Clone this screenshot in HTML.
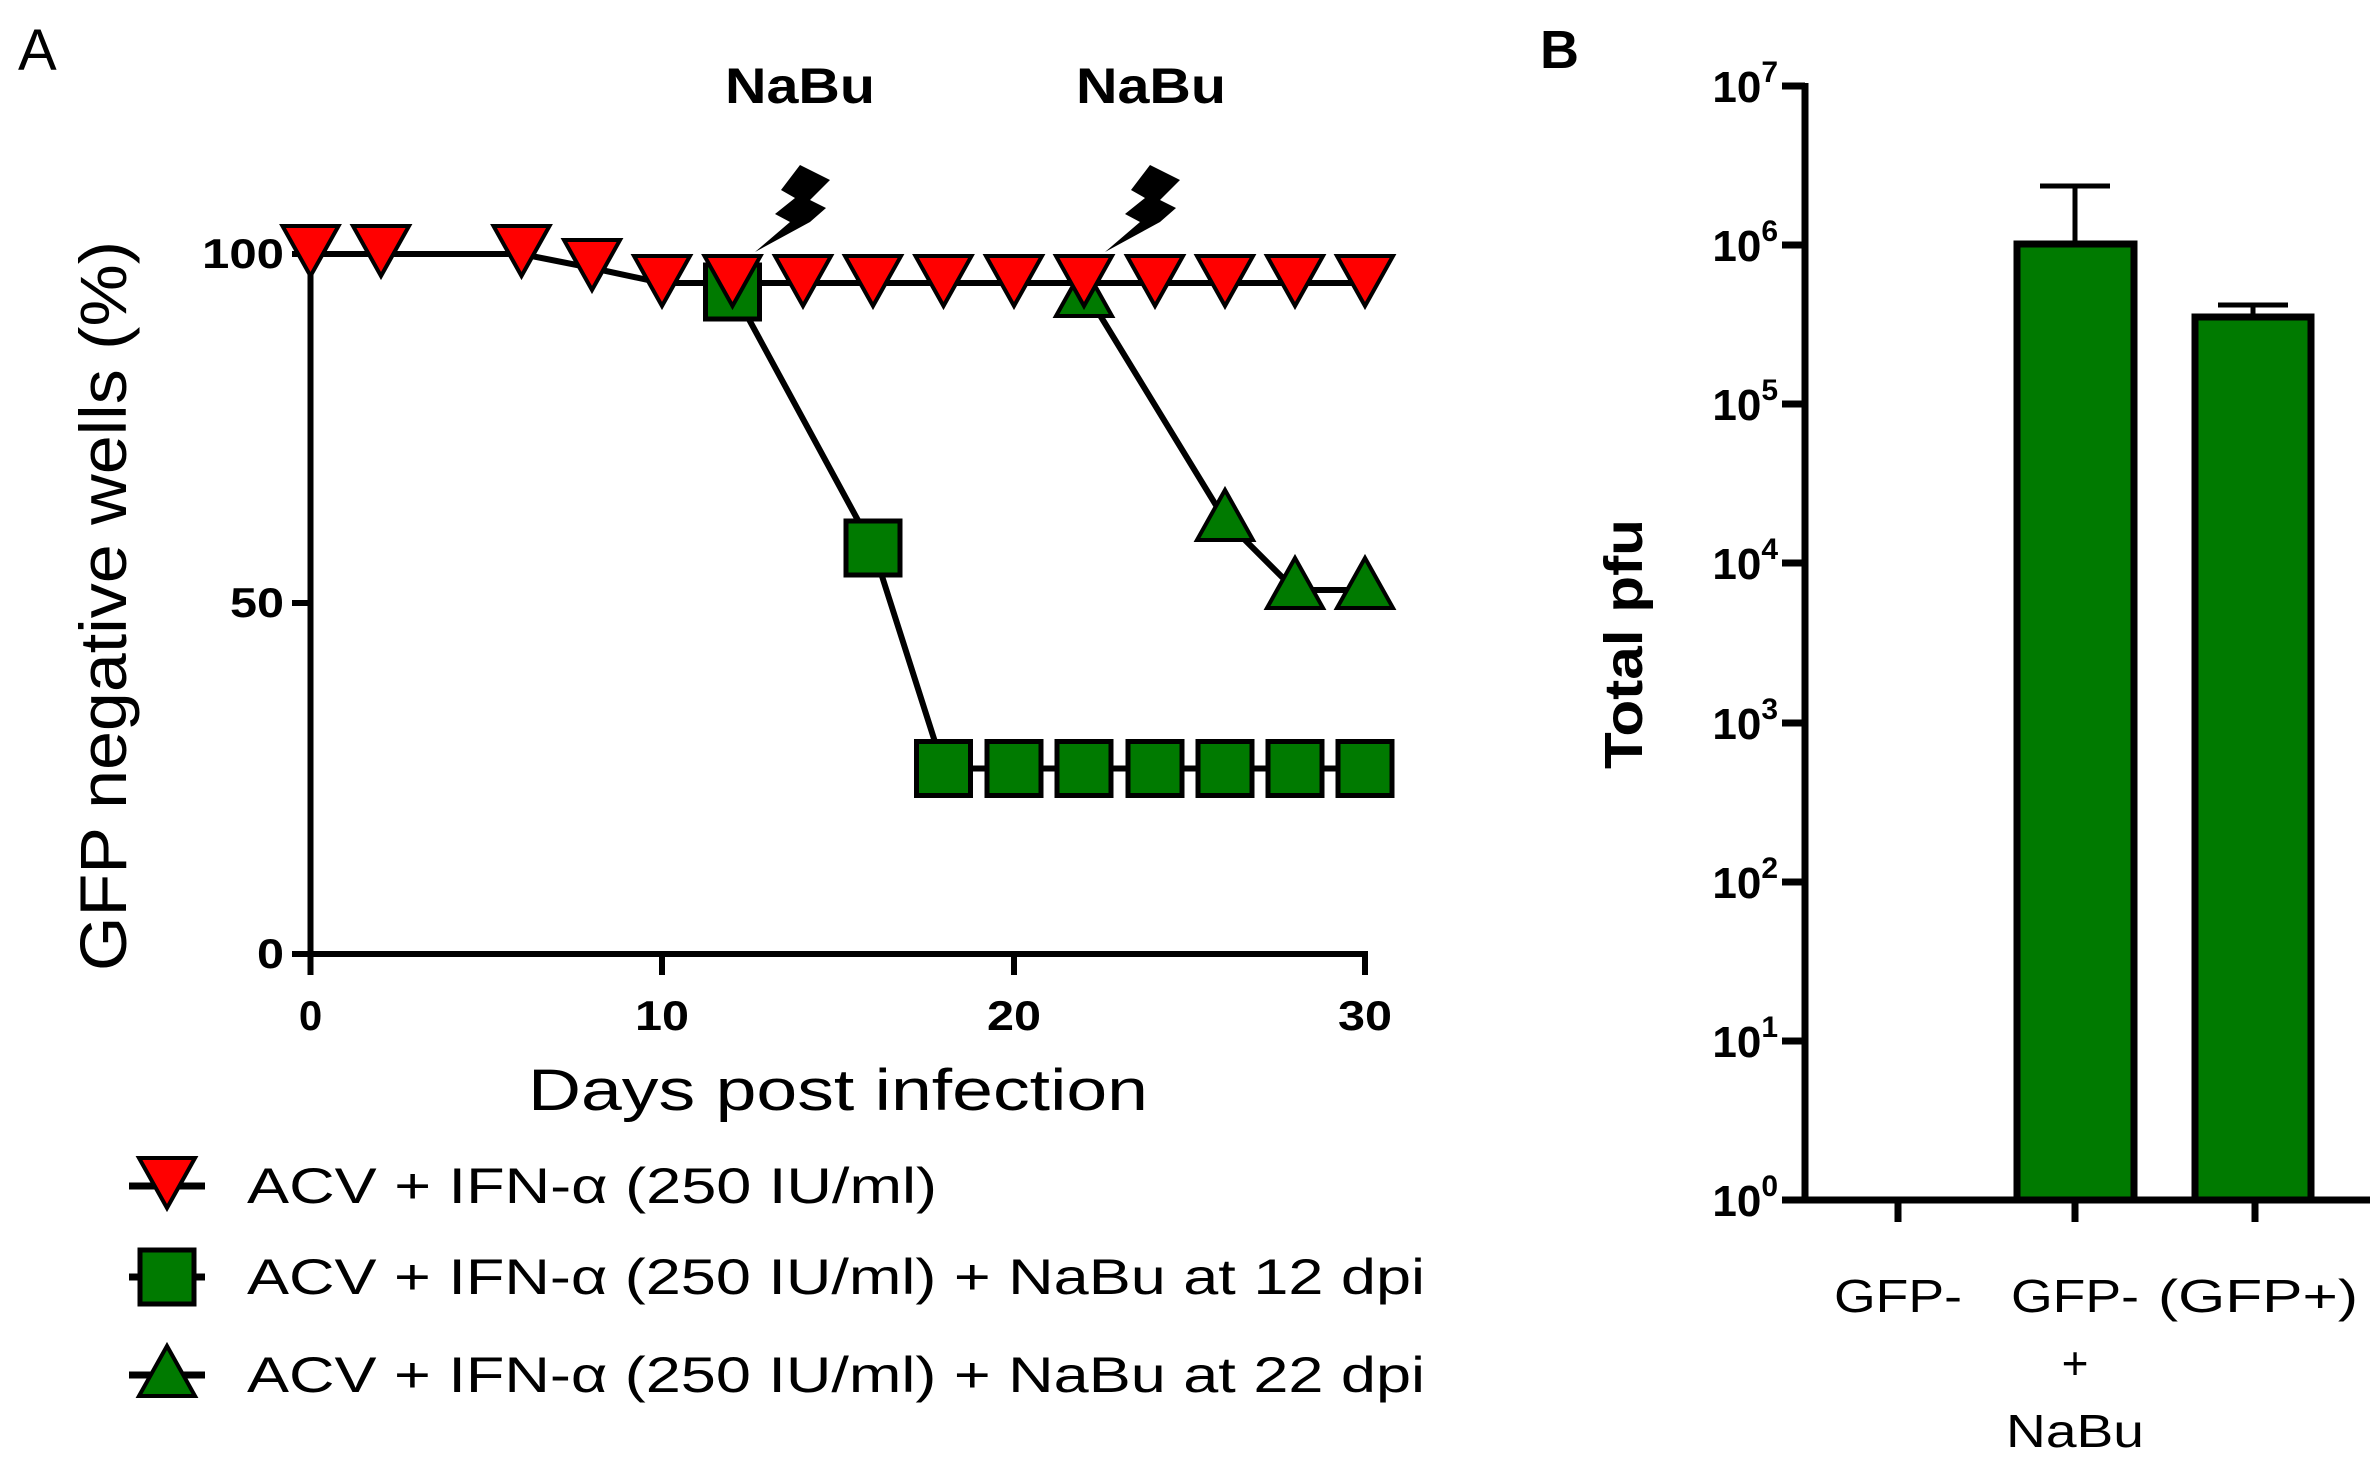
<!DOCTYPE html>
<html><head><meta charset="utf-8"><style>
html,body{margin:0;padding:0;background:#fff;}
svg{display:block;}
text{font-family:"Liberation Sans",sans-serif;fill:#000;}
.b{font-weight:bold;}
</style></head><body>
<svg width="2375" height="1470" viewBox="0 0 2375 1470" xmlns="http://www.w3.org/2000/svg">
<defs>
<polygon id="tdn" points="-28,-24 28,-24 0,26" fill="#f00" stroke="#000" stroke-width="4" stroke-linejoin="miter"/>
<rect id="sq" x="-27" y="-27" width="54" height="54" fill="#007a00" stroke="#000" stroke-width="5"/>
<polygon id="tup" points="-28,24 28,24 0,-26" fill="#007a00" stroke="#000" stroke-width="4"/>
</defs>
<!-- Panel A -->
<text x="18" y="70" font-size="58">A</text>
<text x="800" y="103" font-size="50" class="b" text-anchor="middle" textLength="150" lengthAdjust="spacingAndGlyphs">NaBu</text>
<text x="1151" y="103" font-size="50" class="b" text-anchor="middle" textLength="150" lengthAdjust="spacingAndGlyphs">NaBu</text>
<!-- bolts -->
<polygon points="800,165 830,180 810,200 826,208 810,222 755,252 790,222 775,214 795,198 781,190" fill="#000"/>
<polygon points="1150,165 1180,180 1160,200 1176,208 1160,222 1105,252 1140,222 1125,214 1145,198 1131,190" fill="#000"/>
<!-- axes -->
<line x1="310.5" y1="254" x2="310.5" y2="957" stroke="#000" stroke-width="6"/>
<line x1="307" y1="954" x2="1368" y2="954" stroke="#000" stroke-width="6"/>
<g stroke="#000" stroke-width="6">
<line x1="292" y1="254" x2="310" y2="254"/><line x1="292" y1="603" x2="310" y2="603"/><line x1="292" y1="954" x2="310" y2="954"/>
<line x1="310.5" y1="954" x2="310.5" y2="975"/><line x1="662" y1="954" x2="662" y2="975"/><line x1="1014" y1="954" x2="1014" y2="975"/><line x1="1365" y1="954" x2="1365" y2="975"/>
</g>
<g font-size="42" class="b" text-anchor="end">
<text x="284" y="268" textLength="82" lengthAdjust="spacingAndGlyphs">100</text>
<text x="284" y="617" textLength="54" lengthAdjust="spacingAndGlyphs">50</text>
<text x="284" y="968" textLength="27" lengthAdjust="spacingAndGlyphs">0</text>
</g>
<g font-size="42" class="b" text-anchor="middle">
<text x="310.5" y="1030">0</text><text x="662" y="1030" textLength="54" lengthAdjust="spacingAndGlyphs">10</text>
<text x="1014" y="1030" textLength="54" lengthAdjust="spacingAndGlyphs">20</text><text x="1365" y="1030" textLength="54" lengthAdjust="spacingAndGlyphs">30</text>
</g>
<text x="838" y="1110" font-size="58" text-anchor="middle" textLength="620" lengthAdjust="spacingAndGlyphs">Days post infection</text>
<text transform="translate(126,606) rotate(-90)" font-size="66" text-anchor="middle" textLength="730" lengthAdjust="spacingAndGlyphs">GFP negative wells (%)</text>
<!-- series lines -->
<g fill="none" stroke="#000" stroke-width="6" stroke-linejoin="round">
<polyline points="732.5,289 873,548 943.5,768.5 1365,768.5"/>
<polyline points="1084,289 1225,520 1295,590 1365,590"/>
<polyline points="310.5,254 521.5,254 592,268 662,283 1365,283"/>
</g>
<use href="#sq" x="732.5" y="292"/><use href="#sq" x="873" y="548"/>
<use href="#sq" x="943.5" y="768.5"/><use href="#sq" x="1014" y="768.5"/><use href="#sq" x="1084" y="768.5"/><use href="#sq" x="1155" y="768.5"/><use href="#sq" x="1225" y="768.5"/><use href="#sq" x="1295" y="768.5"/><use href="#sq" x="1365" y="768.5"/>
<use href="#tup" x="1084" y="292"/><use href="#tup" x="1225" y="516"/><use href="#tup" x="1295" y="584"/><use href="#tup" x="1365" y="584"/>
<use href="#tdn" x="310.5" y="250"/><use href="#tdn" x="381" y="250"/><use href="#tdn" x="521.5" y="250"/><use href="#tdn" x="592" y="264"/>
<use href="#tdn" x="662" y="280"/><use href="#tdn" x="732.5" y="280"/><use href="#tdn" x="803" y="280"/><use href="#tdn" x="873" y="280"/><use href="#tdn" x="943.5" y="280"/><use href="#tdn" x="1014" y="280"/><use href="#tdn" x="1084" y="280"/><use href="#tdn" x="1155" y="280"/><use href="#tdn" x="1225" y="280"/><use href="#tdn" x="1295" y="280"/><use href="#tdn" x="1365" y="280"/>
<!-- legend -->
<g stroke="#000" stroke-width="7">
<line x1="129" y1="1186" x2="205" y2="1186"/><line x1="129" y1="1277" x2="205" y2="1277"/><line x1="129" y1="1375" x2="205" y2="1375"/>
</g>
<use href="#tdn" x="167" y="1182"/><use href="#sq" x="167" y="1277"/><use href="#tup" x="167" y="1372"/>
<g font-size="50">
<text x="247" y="1203" textLength="690" lengthAdjust="spacingAndGlyphs">ACV + IFN-α (250 IU/ml)</text>
<text x="247" y="1294" textLength="1178" lengthAdjust="spacingAndGlyphs">ACV + IFN-α (250 IU/ml) + NaBu at 12 dpi</text>
<text x="247" y="1392" textLength="1178" lengthAdjust="spacingAndGlyphs">ACV + IFN-α (250 IU/ml) + NaBu at 22 dpi</text>
</g>
<!-- Panel B -->
<text x="1540" y="68" font-size="54" class="b">B</text>
<rect x="2017" y="244" width="117" height="956" fill="#007a00" stroke="#000" stroke-width="7"/>
<rect x="2195" y="317" width="116" height="883" fill="#007a00" stroke="#000" stroke-width="7"/>
<g stroke="#000" stroke-width="5">
<line x1="2075" y1="244" x2="2075" y2="186"/><line x1="2040" y1="186" x2="2110" y2="186"/>
<line x1="2253" y1="317" x2="2253" y2="305"/><line x1="2218" y1="305" x2="2288" y2="305"/>
</g>
<line x1="1805" y1="83" x2="1805" y2="1203" stroke="#000" stroke-width="7"/>
<line x1="1802" y1="1200" x2="2370" y2="1200" stroke="#000" stroke-width="7"/>
<g stroke="#000" stroke-width="7">
<line x1="1782" y1="86" x2="1805" y2="86"/><line x1="1782" y1="245" x2="1805" y2="245"/><line x1="1782" y1="404" x2="1805" y2="404"/><line x1="1782" y1="563" x2="1805" y2="563"/><line x1="1782" y1="723" x2="1805" y2="723"/><line x1="1782" y1="882" x2="1805" y2="882"/><line x1="1782" y1="1041" x2="1805" y2="1041"/><line x1="1782" y1="1200" x2="1805" y2="1200"/>
<line x1="1898" y1="1200" x2="1898" y2="1222"/><line x1="2075" y1="1200" x2="2075" y2="1222"/><line x1="2255" y1="1200" x2="2255" y2="1222"/>
</g>
<g font-size="44" class="b" text-anchor="end">
<text x="1778" y="102">10<tspan font-size="30" dy="-20">7</tspan></text>
<text x="1778" y="261">10<tspan font-size="30" dy="-20">6</tspan></text>
<text x="1778" y="420">10<tspan font-size="30" dy="-20">5</tspan></text>
<text x="1778" y="579">10<tspan font-size="30" dy="-20">4</tspan></text>
<text x="1778" y="739">10<tspan font-size="30" dy="-20">3</tspan></text>
<text x="1778" y="898">10<tspan font-size="30" dy="-20">2</tspan></text>
<text x="1778" y="1057">10<tspan font-size="30" dy="-20">1</tspan></text>
<text x="1778" y="1216">10<tspan font-size="30" dy="-20">0</tspan></text>
</g>
<text transform="translate(1642,644) rotate(-90)" font-size="54" class="b" text-anchor="middle" textLength="250" lengthAdjust="spacingAndGlyphs">Total pfu</text>
<g font-size="46" text-anchor="middle">
<text x="1898" y="1312" textLength="128" lengthAdjust="spacingAndGlyphs">GFP-</text>
<text x="2075" y="1312" textLength="128" lengthAdjust="spacingAndGlyphs">GFP-</text>
<text x="2075" y="1379">+</text>
<text x="2075" y="1447" textLength="138" lengthAdjust="spacingAndGlyphs">NaBu</text>
<text x="2258" y="1312" textLength="200" lengthAdjust="spacingAndGlyphs">(GFP+)</text>
</g>
</svg>
</body></html>
